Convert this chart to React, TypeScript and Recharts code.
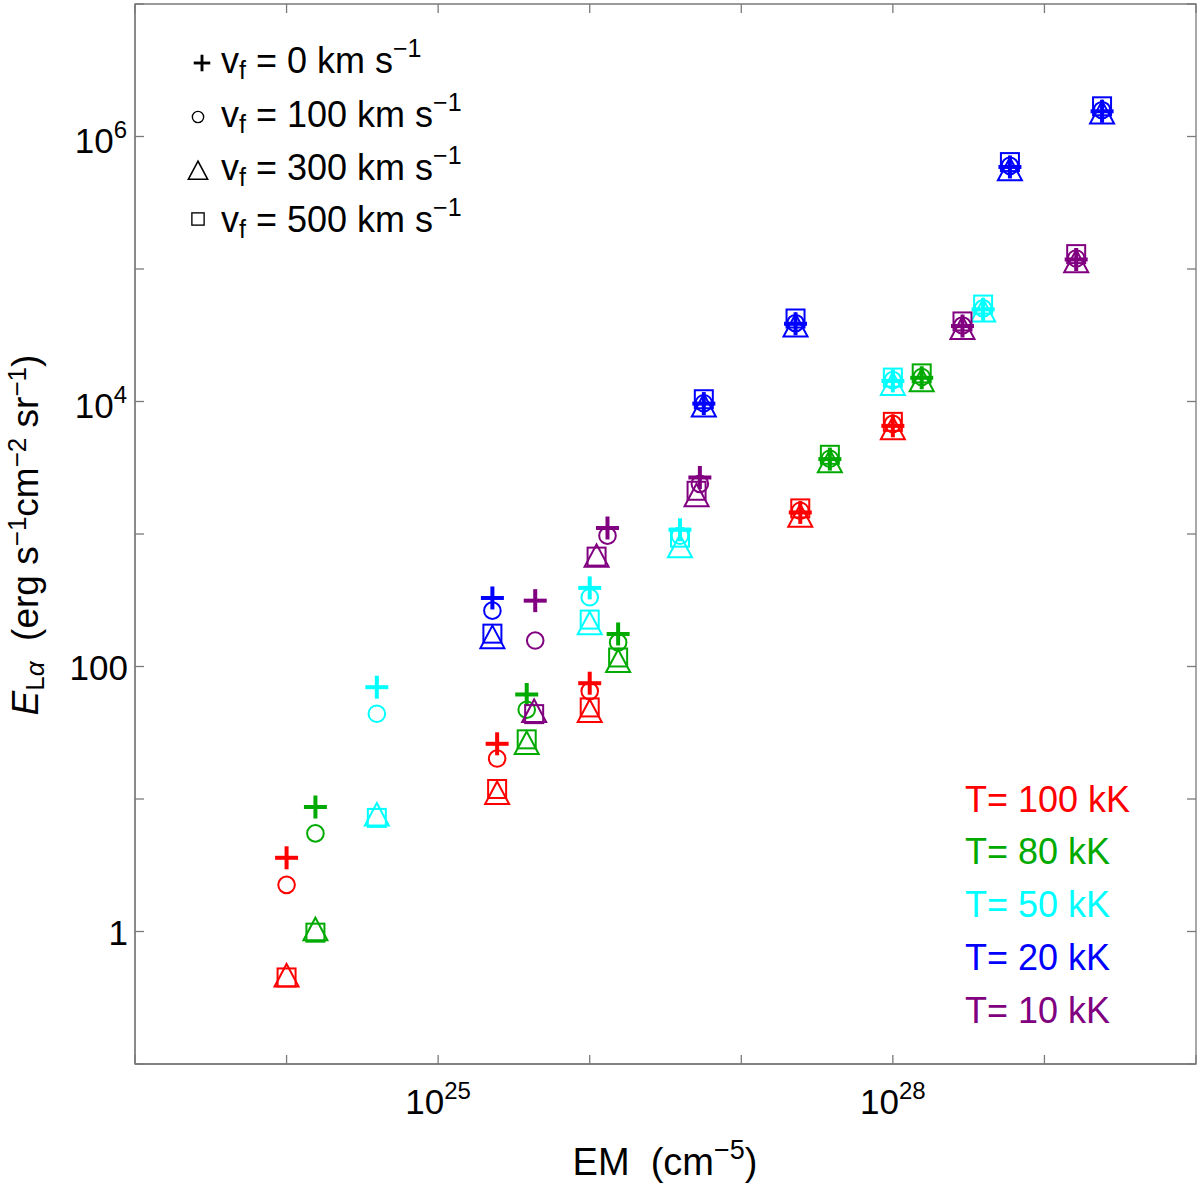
import React from 'react';
import { ScatterChart, Scatter, XAxis, YAxis, ReferenceArea } from 'recharts';

const FONT = '"Liberation Sans", Arial, Helvetica, sans-serif';
const AXIS_GREY = '#7a7a7a';

// frame edges that the tick renderers need for the mirrored ticks
const PLOT_TOP = 4;
const PLOT_RIGHT = 1196;
const TICK_LEN = 9;

const X_TICKS = [1e23, 1e24, 1e25, 1e26, 1e27, 1e28, 1e29, 1e30];
const X_LABELLED = [25, 28];
const Y_TICKS = [0.1, 1, 10, 100, 1e3, 1e4, 1e5, 1e6, 1e7];
const Y_LABELLED = [0, 2, 4, 6];

const TEMPERATURES = ['100', '80', '50', '20', '10']; // kK
const TEMP_COLORS = ['#ff0000', '#00aa00', '#00ffff', '#0000ff', '#800080'];
const VELOCITIES = ['0', '100', '300', '500']; // km s^-1
const MARKERS = ['plus', 'circle', 'triangle', 'square'];

// emission measure (cm^-5) of the five runs at each temperature
const EM_100K = [1e24, 2.45e25, 1e26, 2.45e27, 1e28];
const EM_80K = [1.55e24, 3.84e25, 1.54e26, 3.84e27, 1.55e28];
const EM_50K = [3.94e24, 1e26, 3.94e26, 1e28, 3.94e28];
const EM_20K = [2.28e25, 5.66e26, 2.28e27, 5.92e28, 2.4e29];
const EM_10K = [4.37e25, 1.31e26, 5.33e26, 2.88e28, 1.62e29];
const EM_10K_FAST = [4.3e25, 1.11e26, 5.07e26, 2.88e28, 1.62e29]; // v_f = 300, 500

// E_Lalpha (erg s^-1 cm^-2 sr^-1), one array per flow speed
const E_100K_V0 = [3.6, 26.1, 74.8, 1455, 6550];
const E_100K_V100 = [2.25, 20.2, 65.2, 1497, 6780];
const E_100K_V300 = [0.47, 11.2, 46.6, 1386, 6340];
const E_100K_V500 = [0.45, 11.9, 49.1, 1560, 7020];

const E_80K_V0 = [8.7, 61.5, 176, 3675, 15100];
const E_80K_V100 = [5.5, 47.2, 152, 3700, 15300];
const E_80K_V300 = [1.05, 26.7, 111, 3570, 14600];
const E_80K_V500 = [0.98, 28.2, 117, 3960, 16300];

const E_50K_V0 = [69.8, 392, 1077, 14300, 49600];
const E_50K_V100 = [44, 333, 970, 14500, 50500];
const E_50K_V300 = [7.7, 214, 816, 13700, 49000];
const E_50K_V500 = [7.2, 226, 938, 15150, 53900];

const E_20K_V0 = [329, 9640, 38600, 589000, 1.55e6];
const E_20K_V100 = [264, 9700, 39000, 600000, 1.58e6];
const E_20K_V300 = [168, 9420, 37800, 571000, 1.53e6];
const E_20K_V500 = [177, 10400, 42300, 641000, 1.69e6];

const E_10K_V0 = [314, 1110, 2670, 37100, 118000];
const E_10K_V100 = [157, 971, 2390, 37500, 120000];
const E_10K_V300 = [46.6, 690, 1980, 36200, 115300];
const E_10K_V500 = [43.7, 675, 2120, 40200, 129500];

const RUNS = [
  { em: [EM_100K, EM_100K, EM_100K, EM_100K], e: [E_100K_V0, E_100K_V100, E_100K_V300, E_100K_V500] },
  { em: [EM_80K, EM_80K, EM_80K, EM_80K], e: [E_80K_V0, E_80K_V100, E_80K_V300, E_80K_V500] },
  { em: [EM_50K, EM_50K, EM_50K, EM_50K], e: [E_50K_V0, E_50K_V100, E_50K_V300, E_50K_V500] },
  { em: [EM_20K, EM_20K, EM_20K, EM_20K], e: [E_20K_V0, E_20K_V100, E_20K_V300, E_20K_V500] },
  { em: [EM_10K, EM_10K, EM_10K_FAST, EM_10K_FAST], e: [E_10K_V0, E_10K_V100, E_10K_V300, E_10K_V500] },
];

const series = RUNS.flatMap((run, t) =>
  VELOCITIES.map((v, k) => ({
    key: `T${TEMPERATURES[t]}-v${v}`,
    color: TEMP_COLORS[t],
    marker: MARKERS[k],
    data: run.em[k].map((x, i) => ({ x, y: run.e[k][i] })),
  }))
);

function drawMarker(kind: string, cx: number, cy: number, color: string, s = 1) {
  if (kind === 'plus') {
    const h = 11.5 * s;
    return (
      <g stroke={color} strokeWidth={4 * s} fill="none">
        <line x1={cx - h} y1={cy} x2={cx + h} y2={cy} />
        <line x1={cx} y1={cy - h} x2={cx} y2={cy + h} />
      </g>
    );
  }
  if (kind === 'circle') {
    return <circle cx={cx} cy={cy} r={8.3 * s} stroke={color} strokeWidth={2 * s} fill="none" />;
  }
  if (kind === 'triangle') {
    const w = 12 * s;
    const pts = `${cx},${cy - 11 * s} ${cx + w},${cy + 11.5 * s} ${cx - w},${cy + 11.5 * s}`;
    return <polygon points={pts} stroke={color} strokeWidth={2 * s} fill="none" />;
  }
  const a = 9 * s;
  return <rect x={cx - a} y={cy - a} width={2 * a} height={2 * a} stroke={color} strokeWidth={2 * s} fill="none" />;
}

const markerShape = (kind: string, color: string) => (props: any) => {
  const { cx, cy } = props;
  if (cx == null || cy == null) return <g />;
  return drawMarker(kind, cx, cy, color);
};

const XTick = (props: any) => {
  const { x, y, payload } = props;
  const exp = Math.round(Math.log10(payload.value));
  return (
    <g>
      <line x1={x} y1={y} x2={x} y2={y - TICK_LEN} stroke={AXIS_GREY} strokeWidth={1.3} />
      <line x1={x} y1={PLOT_TOP} x2={x} y2={PLOT_TOP + TICK_LEN} stroke={AXIS_GREY} strokeWidth={1.3} />
      {X_LABELLED.includes(exp) && (
        <text x={x} y={y + 50} textAnchor="middle" fontFamily={FONT} fontSize={35} fill="#000">
          10<tspan dy={-15} fontSize={24}>{exp}</tspan>
        </text>
      )}
    </g>
  );
};

const YTick = (props: any) => {
  const { x, y, payload } = props;
  const exp = Math.round(Math.log10(payload.value));
  let label = null;
  if (Y_LABELLED.includes(exp)) {
    label =
      exp < 4 ? (
        <text x={x - 7} y={y + 13} textAnchor="end" fontFamily={FONT} fontSize={35} fill="#000">
          {exp === 0 ? '1' : '100'}
        </text>
      ) : (
        <text x={x - 8} y={y + 16} textAnchor="end" fontFamily={FONT} fontSize={35} fill="#000">
          10<tspan dy={-15} fontSize={24}>{exp}</tspan>
        </text>
      );
  }
  return (
    <g>
      <line x1={x} y1={y} x2={x + TICK_LEN} y2={y} stroke={AXIS_GREY} strokeWidth={1.3} />
      <line x1={PLOT_RIGHT} y1={y} x2={PLOT_RIGHT - TICK_LEN} y2={y} stroke={AXIS_GREY} strokeWidth={1.3} />
      {label}
    </g>
  );
};

const LEGEND_ROWS = [73, 127, 180, 232];
const TEMP_ROWS = [812, 864, 917, 970, 1023];

export default function App() {
  return (
    <div style={{ position: 'absolute', left: 0, top: 0, width: 1200, height: 1183, background: '#fff' }}>
      <ScatterChart width={1200} height={1183} margin={{ top: PLOT_TOP, right: 1200 - PLOT_RIGHT, bottom: 0, left: 0 }}>
        <XAxis
          type="number"
          dataKey="x"
          scale="log"
          domain={[1e23, 1e30]}
          ticks={X_TICKS}
          interval={0}
          allowDataOverflow
          height={119}
          tickSize={0}
          tickMargin={0}
          tickLine={false}
          axisLine={{ stroke: AXIS_GREY, strokeWidth: 1.3 }}
          tick={<XTick />}
        />
        <YAxis
          type="number"
          dataKey="y"
          scale="log"
          domain={[0.1, 1e7]}
          ticks={Y_TICKS}
          interval={0}
          allowDataOverflow
          width={135}
          tickSize={0}
          tickMargin={0}
          tickLine={false}
          axisLine={{ stroke: AXIS_GREY, strokeWidth: 1.3 }}
          tick={<YTick />}
        />
        <ReferenceArea
          x1={1e23}
          x2={1e30}
          y1={0.1}
          y2={1e7}
          ifOverflow="visible"
          fill="none"
          fillOpacity={0}
          stroke={AXIS_GREY}
          strokeWidth={1.3}
        />
        {series.map((s) => (
          <Scatter
            key={s.key}
            name={s.key}
            data={s.data}
            isAnimationActive={false}
            shape={markerShape(s.marker, s.color)}
          />
        ))}
      </ScatterChart>
      <svg
        width={1200}
        height={1183}
        style={{ position: 'absolute', left: 0, top: 0, pointerEvents: 'none' }}
        fontFamily={FONT}
      >
        {VELOCITIES.map((v, k) => (
          <g key={v}>
            {drawMarker(MARKERS[k], k === 0 ? 202 : 198, LEGEND_ROWS[k] - 10 - (k === 3 ? 3 : 0), '#000', k === 0 ? 0.72 : k === 2 ? 0.8 : 0.68)}
            <text x={221} y={LEGEND_ROWS[k]} fontSize={36} fill="#000">
              v<tspan dy={6} fontSize={25}>f</tspan>
              <tspan dy={-6}>{` = ${v} km s`}</tspan>
              <tspan dy={-16} fontSize={25}>−1</tspan>
            </text>
          </g>
        ))}
        {TEMPERATURES.map((t, i) => (
          <text key={t} x={965} y={TEMP_ROWS[i]} fontSize={36} fill={TEMP_COLORS[i]}>
            {`T= ${t} kK`}
          </text>
        ))}
        <text x={665} y={1175} textAnchor="middle" fontSize={38} fill="#000">
          {'EM\u00a0\u00a0(cm'}
          <tspan dy={-16} fontSize={27}>−5</tspan>
          <tspan dy={16}>)</tspan>
        </text>
        <text transform="translate(38, 535) rotate(-90)" textAnchor="middle" fontSize={37} fill="#000">
          <tspan fontStyle="italic">E</tspan>
          <tspan dy={6} fontSize={26}>L</tspan>
          <tspan fontSize={26} fontStyle="italic">α</tspan>
          <tspan dy={-6}>{'\u00a0\u00a0(erg s'}</tspan>
          <tspan dy={-12} fontSize={26}>−1</tspan>
          <tspan dy={12}>cm</tspan>
          <tspan dy={-12} fontSize={26}>−2</tspan>
          <tspan dy={12}> sr</tspan>
          <tspan dy={-12} fontSize={26}>−1</tspan>
          <tspan dy={12}>)</tspan>
        </text>
      </svg>
    </div>
  );
}
